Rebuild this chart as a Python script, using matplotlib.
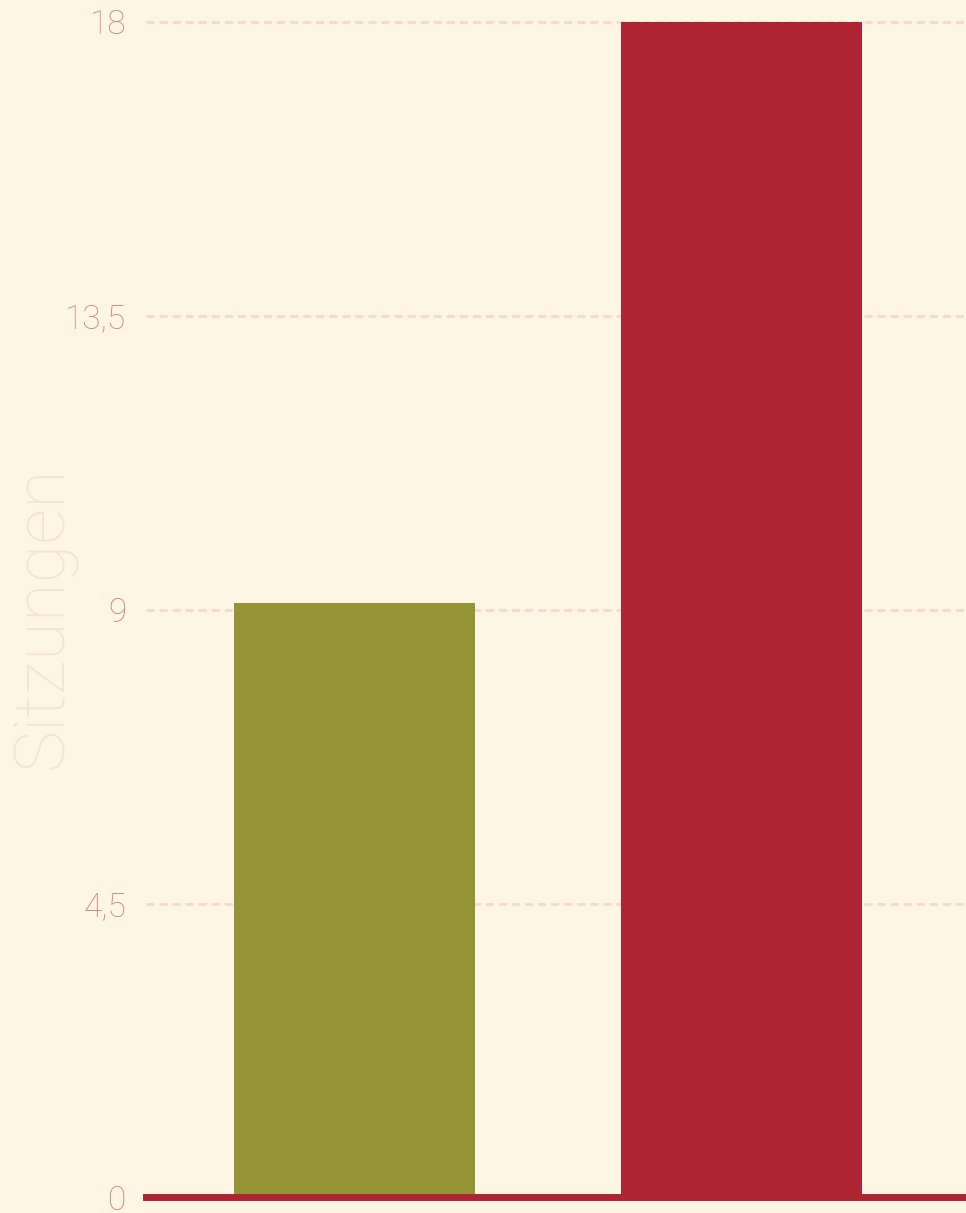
import matplotlib
matplotlib.use('Agg')
import matplotlib.pyplot as plt
from matplotlib.ticker import FuncFormatter

# data
categories = ['A', 'B']
sessions = [9.1, 18.0]
bar_colors = ['#949436', '#AE2433']
y_ticks = [0, 4.5, 9, 13.5, 18]

BG = '#FEF6E5'
TICK_COLOR = '#D6806F'
GRID_COLOR = '#F9D8CB'
LABEL_COLOR = '#F6E2D6'

plt.rcParams['font.family'] = ['Roboto', 'DejaVu Sans']

fig = plt.figure(figsize=(9.66, 12.13), dpi=100, facecolor=BG)
ax = fig.add_axes([146 / 966, 15 / 1213, 1 - 146 / 966, 1 - 15 / 1213])
ax.set_facecolor(BG)

x = list(range(len(categories)))
ax.bar(x, sessions, width=0.6236, color=bar_colors, zorder=2)

ax.set_xlim(-0.5395, 1.582)
ax.set_ylim(0, 18.336)
ax.set_yticks(y_ticks)
ax.yaxis.set_major_formatter(FuncFormatter(lambda v, p: f'{v:g}'.replace('.', ',')))
ax.set_xticks([])

ax.grid(axis='y', color=GRID_COLOR, linestyle=(0, (2.9, 1.8)), linewidth=2, zorder=0)
ax.set_axisbelow(True)

for s in ['top', 'right', 'left']:
    ax.spines[s].set_visible(False)
ax.spines['bottom'].set_color('#AE2433')
ax.spines['bottom'].set_linewidth(5)
ax.spines['bottom'].set_position(('outward', -0.5))
ax.spines['bottom'].set_zorder(3)

ax.tick_params(axis='y', length=0, pad=14, labelsize=24, labelcolor=TICK_COLOR)
for lbl in ax.get_yticklabels():
    lbl.set_fontweight('light')

ax.set_ylabel('Sitzungen', fontsize=51, color=LABEL_COLOR, fontweight='light')
ax.yaxis.set_label_coords(-0.084, 0.485)

fig.savefig('out.png', dpi=100, facecolor=BG)
